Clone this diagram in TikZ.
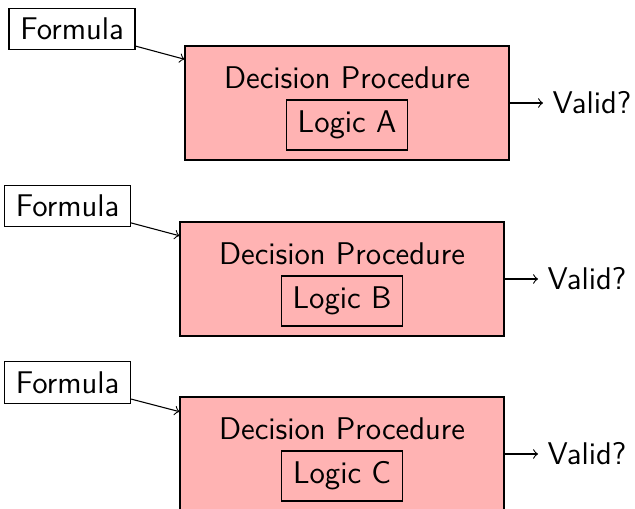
\documentclass[tikz,border=0pt]{standalone}
\usepackage{tikz}
\usetikzlibrary{positioning,calc}
\definecolor{dpred}{RGB}{255, 179, 179}

\begin{document}
\begin{tikzpicture}[
        x=0.37pt, y=-0.37pt,
        font=\sffamily\fontsize{11.6}{14}\selectfont,
        inbox/.style={draw, rectangle, minimum width=46.6pt, minimum height=15.5pt, inner sep=0pt},
        dp/.style={draw, fill=dpred, rectangle, minimum width=119.9pt, minimum height=42.2pt, inner sep=0pt},
        logic/.style={draw, rectangle, minimum width=44.8pt, minimum height=18.5pt, inner sep=0pt},
        title/.style={inner sep=0pt},
        result/.style={anchor=west},
        arr/.style={->}
    ]
        \useasboundingbox (0,0) rectangle (635,509);

        % Procedure A
        \node[inbox] (fA) at (72, 29) {Formula};
        \node[dp] (dpA) at (347, 103) {};
        \node[title] (tA) at (347, 78) {Decision Procedure};
        \node[logic] (lA) at (347, 125) {Logic A};
        \node[result] (vA) at (543, 103) {Valid?};

        % Procedure B
        \node[inbox] (fB) at (67.5, 206) {Formula};
        \node[dp] (dpB) at (342, 279) {};
        \node[title] (tB) at (342, 254) {Decision Procedure};
        \node[logic] (lB) at (342, 301) {Logic B};
        \node[result] (vB) at (538, 279) {Valid?};

        % Procedure C
        \node[inbox] (fC) at (67.5, 382.5) {Formula};
        \node[dp] (dpC) at (342, 454) {};
        \node[title] (tC) at (342, 429) {Decision Procedure};
        \node[logic] (lC) at (342, 476) {Logic C};
        \node[result] (vC) at (538, 454) {Valid?};

        % Connections
        \draw[arr] (fA) -- (dpA);
        \draw[arr] (dpA) -- (vA);
        \draw[arr] (fB) -- (dpB);
        \draw[arr] (dpB) -- (vB);
        \draw[arr] (fC) -- (dpC);
        \draw[arr] (dpC) -- (vC);
    \end{tikzpicture}
\end{document}
